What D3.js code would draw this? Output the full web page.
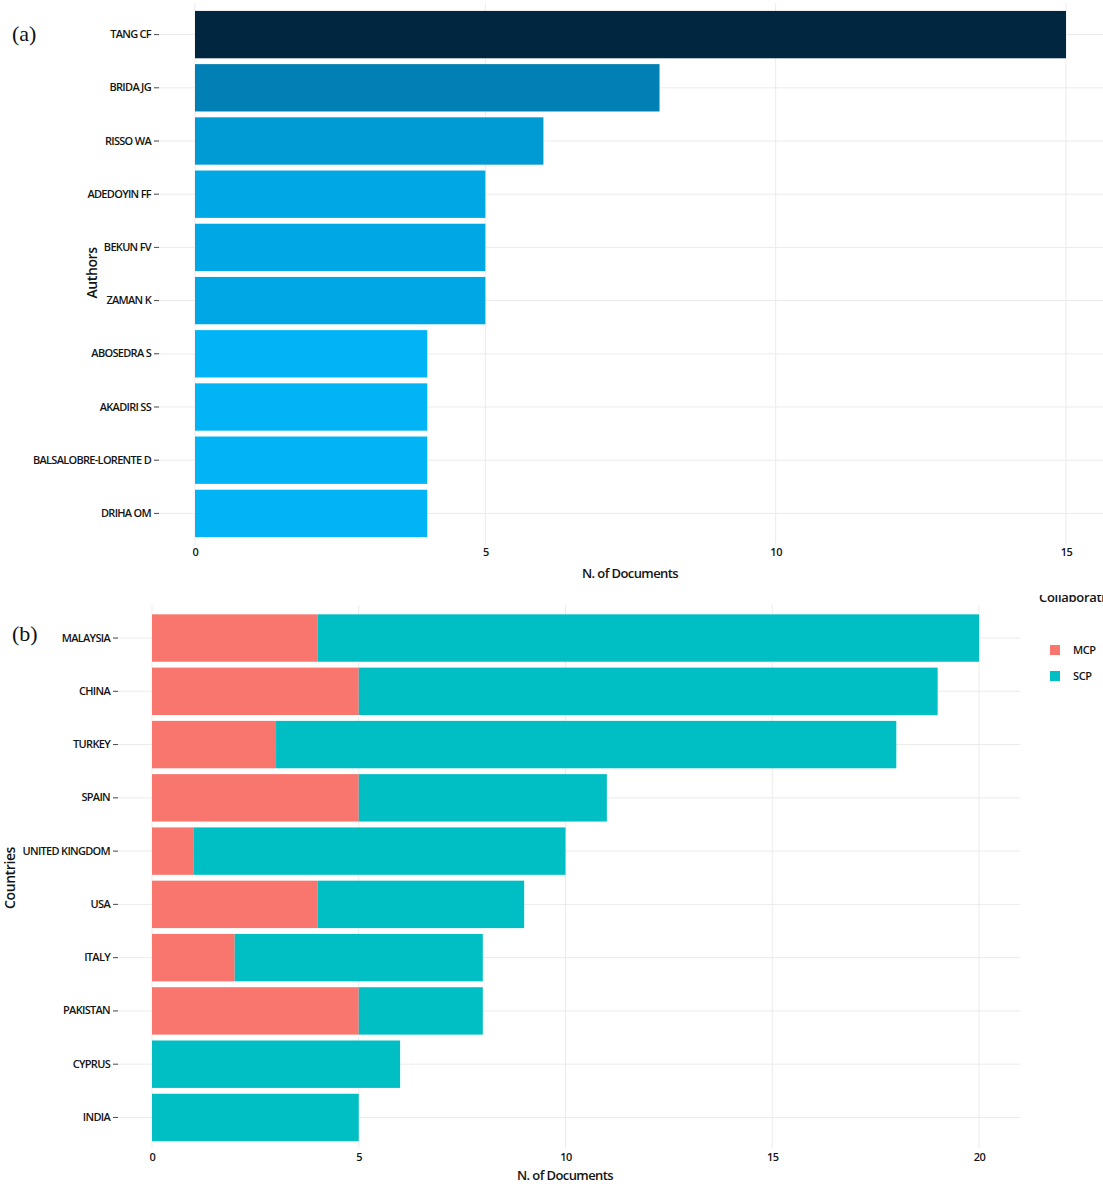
<!DOCTYPE html>
<html>
<head>
<meta charset="utf-8">
<script src="https://cdn.jsdelivr.net/npm/d3@7/dist/d3.min.js"></script>
<style>
  html, body { margin: 0; padding: 0; background: #fff; }
  svg { display: block; }
  .lbl { font-family: "Open Sans", sans-serif; fill: #141414; font-weight: 600; }
</style>
</head>
<body>
<svg id="chart" width="1103" height="1184"></svg>
<script>
// Most productive authors
const authors = ["TANG CF", "BRIDA JG", "RISSO WA", "ADEDOYIN FF", "BEKUN FV",
                 "ZAMAN K", "ABOSEDRA S", "AKADIRI SS", "BALSALOBRE-LORENTE D", "DRIHA OM"];
const authorDocs = [15, 8, 6, 5, 5, 5, 4, 4, 4, 4];
const authorTicks = [0, 5, 10, 15];

// Corresponding author's countries, split by collaboration type
const countries = ["MALAYSIA", "CHINA", "TURKEY", "SPAIN", "UNITED KINGDOM",
                   "USA", "ITALY", "PAKISTAN", "CYPRUS", "INDIA"];
const mcp = [4, 5, 3, 5, 1, 4, 2, 5, 0, 0];
const scp = [16, 14, 15, 6, 9, 5, 6, 3, 6, 5];
const countryTicks = [0, 5, 10, 15, 20];
const collabTypes = ["MCP", "SCP"];

const svg = d3.select("#chart");
const gridColor = "#ebebeb";
const tickColor = "#4d4d4d";
const labelFont = "11px";

function drawCategoryAxis(g, y, cats, gridX0, gridX1, labelX) {
  cats.forEach(c => {
    const cy = y(c) + y.bandwidth() / 2;
    g.append("line").attr("x1", gridX0).attr("x2", gridX1)
      .attr("y1", cy).attr("y2", cy)
      .attr("stroke", gridColor).attr("stroke-width", 1);
    g.append("line").attr("x1", gridX0).attr("x2", gridX0 + 5)
      .attr("y1", cy).attr("y2", cy)
      .attr("stroke", tickColor).attr("stroke-width", 1);
  });
  const ax = d3.axisLeft(y).tickSize(0).tickPadding(0);
  const a = g.append("g").attr("transform", `translate(${labelX},0)`).call(ax);
  a.select(".domain").remove();
  a.selectAll("text").attr("class", "lbl")
    .style("font-size", labelFont).style("letter-spacing", "-0.7px")
    .attr("fill", "#141414");
}

function drawValueAxis(g, x, ticks, y0, y1, labelY) {
  ticks.forEach(t => {
    g.append("line").attr("x1", x(t)).attr("x2", x(t))
      .attr("y1", y0).attr("y2", y1)
      .attr("stroke", gridColor).attr("stroke-width", 1);
  });
  const ax = d3.axisBottom(x).tickValues(ticks).tickSize(0).tickPadding(0)
    .tickFormat(d3.format("d"));
  const a = g.append("g").attr("transform", `translate(0,${labelY})`).call(ax);
  a.select(".domain").remove();
  a.selectAll("text").attr("class", "lbl")
    .style("font-size", labelFont).style("letter-spacing", "-0.5px")
    .attr("fill", "#141414");
}

// ---------- Panel (a): authors ----------
const ga = svg.append("g");
const xa = d3.scaleLinear().domain([0, 15]).range([195, 1066]);
const ya = d3.scaleBand().domain(authors).range([8, 540]).paddingInner(0.11).paddingOuter(0.055);
const colorA = d3.scaleLinear().domain(d3.extent(authorDocs)).range(["#00b4f6", "#002640"]);

drawValueAxis(ga, xa, authorTicks, 3, 545, 548);
drawCategoryAxis(ga, ya, authors, 154, 1103, 151);

ga.selectAll("rect.bar").data(authors).join("rect")
  .attr("class", "bar")
  .attr("x", xa(0))
  .attr("y", d => ya(d))
  .attr("width", (d, i) => xa(authorDocs[i]) - xa(0))
  .attr("height", ya.bandwidth())
  .attr("fill", (d, i) => colorA(authorDocs[i]));

ga.append("text").attr("class", "lbl")
  .attr("x", 630).attr("y", 578)
  .attr("text-anchor", "middle").style("font-size", "13px").style("letter-spacing", "-0.6px")
  .text("N. of Documents");
ga.append("text").attr("class", "lbl")
  .attr("transform", "translate(97,273) rotate(-90)")
  .attr("text-anchor", "middle").style("font-size", "14px").style("letter-spacing", "-0.4px")
  .text("Authors");
ga.append("text").attr("x", 12).attr("y", 41)
  .style("font-family", "'Liberation Serif', 'Times New Roman', serif")
  .style("font-size", "22px").attr("fill", "#111").text("(a)");

// ---------- Panel (b): countries ----------
const gb = svg.append("g");
const xb = d3.scaleLinear().domain([0, 20]).range([152, 979]);
const yb = d3.scaleBand().domain(countries).range([611.4, 1144.1]).paddingInner(0.11).paddingOuter(0.055);
const colorB = d3.scaleOrdinal().domain(collabTypes).range(["#f8766d", "#00bfc4"]);

drawValueAxis(gb, xb, countryTicks, 605, 1148, 1153);
drawCategoryAxis(gb, yb, countries, 113, 1020, 110);

const rows = countries.map((c, i) => ({ country: c, MCP: mcp[i], SCP: scp[i] }));
const stacked = d3.stack().keys(collabTypes)(rows);

gb.selectAll("g.layer").data(stacked).join("g")
  .attr("class", "layer")
  .attr("fill", d => colorB(d.key))
  .selectAll("rect").data(d => d).join("rect")
  .attr("x", d => xb(d[0]))
  .attr("y", d => yb(d.data.country))
  .attr("width", d => xb(d[1]) - xb(d[0]))
  .attr("height", yb.bandwidth());

gb.append("text").attr("class", "lbl")
  .attr("x", 565).attr("y", 1180)
  .attr("text-anchor", "middle").style("font-size", "13px").style("letter-spacing", "-0.6px")
  .text("N. of Documents");
gb.append("text").attr("class", "lbl")
  .attr("transform", "translate(15,878) rotate(-90)")
  .attr("text-anchor", "middle").style("font-size", "14px").style("letter-spacing", "-0.4px")
  .text("Countries");
gb.append("text").attr("x", 12).attr("y", 641)
  .style("font-family", "'Liberation Serif', 'Times New Roman', serif")
  .style("font-size", "22px").attr("fill", "#111").text("(b)");

// Legend (title runs off the right edge of the panel)
svg.append("defs").append("clipPath").attr("id", "legendClip")
  .append("rect").attr("x", 1000).attr("y", 595).attr("width", 103).attr("height", 20);
gb.append("text").attr("class", "lbl")
  .attr("clip-path", "url(#legendClip)")
  .attr("x", 1039).attr("y", 602)
  .style("font-size", "13px").style("letter-spacing", "-0.3px")
  .text("Collaboration");
const leg = gb.selectAll("g.key").data(collabTypes).join("g")
  .attr("class", "key")
  .attr("transform", (d, i) => `translate(1050,${645 + i * 26})`);
leg.append("rect").attr("width", 10).attr("height", 10).attr("fill", d => colorB(d));
leg.append("text").attr("class", "lbl")
  .attr("x", 23).attr("y", 5).attr("dy", "0.35em")
  .style("font-size", labelFont).style("letter-spacing", "-0.4px")
  .text(d => d);
</script>
</body>
</html>
